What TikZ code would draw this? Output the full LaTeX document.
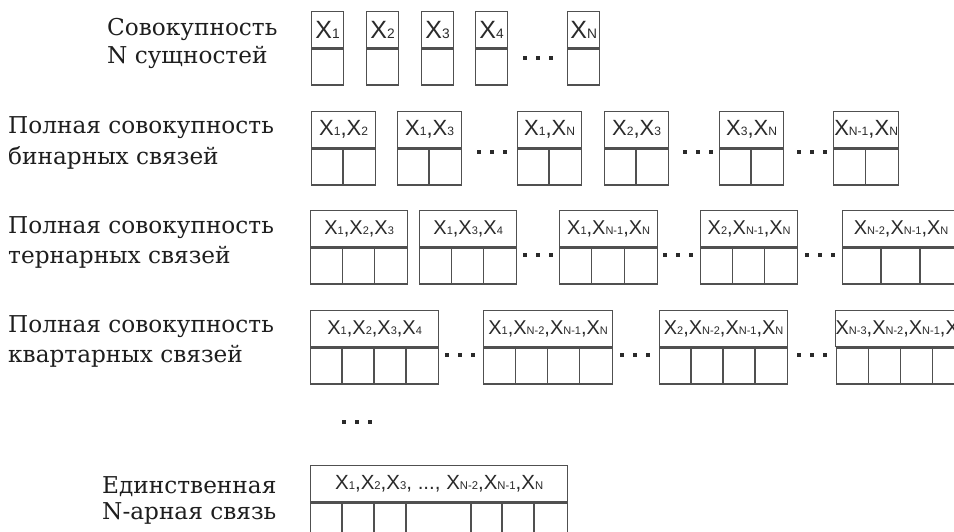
\documentclass[tikz,border=0pt]{standalone}
\usepackage{fontspec}
\usepackage{graphicx}
\setmainfont{DejaVu Serif}
\newfontfamily\boxfont{Liberation Sans}
\definecolor{linegray}{HTML}{505050}
\definecolor{textgray}{HTML}{2A2A2A}
\definecolor{labelgray}{HTML}{1E1E1E}
\newcommand\Xs[1]{X\scalebox{0.55}{#1}}
\tikzset{
  rowlabel/.style={font=\fontsize{23.2}{27}\selectfont, text=labelgray, inner sep=0pt, anchor=base west},
  topcell/.style={draw=linegray, line width=1.3pt, minimum height=36pt, inner sep=0pt, anchor=north west, text=textgray},
  botcell/.style={draw=linegray, line width=1.3pt, minimum height=36pt, inner sep=0pt, anchor=north},
  cellline/.style={draw=linegray, line width=1.3pt},
  sa/.style={font=\boxfont\fontsize{25}{25}\selectfont},
  sb/.style={font=\boxfont\fontsize{22}{22}\selectfont},
  sc/.style={font=\boxfont\fontsize{20}{20}\selectfont},
  sd/.style={font=\boxfont\fontsize{20}{20}\selectfont},
  se/.style={font=\boxfont\fontsize{20.5}{20.5}\selectfont},
}
% #1 name, #2 x, #3 y, #4 width, #5 cells, #6 font style, #7 label
\newcommand\relbox[7]{%
  \node[topcell,#6,minimum width=#4pt] (#1) at (#2,#3) {#7};
  \node[botcell,minimum width=#4pt] (#1c) at (#1.south) {};
  \pgfmathsetmacro\cw{#4/#5}
  \ifnum#5>1
    \foreach \k in {2,...,#5}{
      \draw[cellline] ([xshift={(\k-1)*\cw}]#1c.north west) -- ([xshift={(\k-1)*\cw}]#1c.south west);
    }
  \fi
}
\newcommand\threedots[2]{%
  \foreach \d in {0,1,2}{
    \fill[textgray] ({#1+13*\d-1.8},{#2-1.8}) rectangle ++(3.6,3.6);
  }
}
\begin{document}
\begin{tikzpicture}[x=1pt,y=-1pt]
\useasboundingbox (0,0) rectangle (954,531);
\clip (0,0) rectangle (954,531);
% row labels
\node[rowlabel] (l1a) at (107,35) {Совокупность};
\node[rowlabel] (l1b) at (107,63) {N сущностей};
\node[rowlabel] (l2a) at (8,133) {Полная совокупность};
\node[rowlabel] (l2b) at (8,164) {бинарных связей};
\node[rowlabel] (l3a) at (8,233) {Полная совокупность};
\node[rowlabel] (l3b) at (8,263) {тернарных связей};
\node[rowlabel] (l4a) at (8,332) {Полная совокупность};
\node[rowlabel] (l4b) at (8,362) {квартарных связей};
\node[rowlabel] (l5a) at (102,493) {Единственная};
\node[rowlabel] (l5b) at (102,519) {N-арная связь};
% row 1
\relbox{a1}{311}{11}{32}{1}{sa}{\Xs{1}}
\relbox{a2}{366}{11}{32}{1}{sa}{\Xs{2}}
\relbox{a3}{421}{11}{32}{1}{sa}{\Xs{3}}
\relbox{a4}{475}{11}{32}{1}{sa}{\Xs{4}}
\relbox{aN}{567}{11}{32}{1}{sa}{\Xs{N}}
\threedots{525}{58}
% row 2
\relbox{b1}{311}{111}{64}{2}{sb}{\Xs{1},\Xs{2}}
\relbox{b2}{397}{111}{64}{2}{sb}{\Xs{1},\Xs{3}}
\relbox{b3}{517}{111}{64}{2}{sb}{\Xs{1},\Xs{N}}
\relbox{b4}{604}{111}{64}{2}{sb}{\Xs{2},\Xs{3}}
\relbox{b5}{719}{111}{64}{2}{sb}{\Xs{3},\Xs{N}}
\relbox{b6}{833}{111}{65}{2}{sb}{\Xs{N-1},\Xs{N}}
\threedots{479}{152}
\threedots{685}{152}
\threedots{799}{152}
% row 3
\relbox{c1}{310}{210}{97}{3}{sc}{\Xs{1},\Xs{2},\Xs{3}}
\relbox{c2}{419}{210}{97}{3}{sc}{\Xs{1},\Xs{3},\Xs{4}}
\relbox{c3}{559}{210}{98}{3}{sc}{\Xs{1},\Xs{N-1},\Xs{N}}
\relbox{c4}{700}{210}{97}{3}{sc}{\Xs{2},\Xs{N-1},\Xs{N}}
\relbox{c5}{842}{210}{117}{3}{sc}{\Xs{N-2},\Xs{N-1},\Xs{N}}
\threedots{525}{255}
\threedots{665}{255}
\threedots{807}{255}
% row 4
\relbox{d1}{310}{310}{128}{4}{sd}{\Xs{1},\Xs{2},\Xs{3},\Xs{4}}
\relbox{d2}{483}{310}{129}{4}{sd}{\Xs{1},\Xs{N-2},\Xs{N-1},\Xs{N}}
\relbox{d3}{659}{310}{128}{4}{sd}{\Xs{2},\Xs{N-2},\Xs{N-1},\Xs{N}}
\relbox{d4}{835}{310}{129}{4}{sd}{\Xs{N-3},\Xs{N-2},\Xs{N-1},\Xs{N}}
\threedots{447}{355}
\threedots{622}{355}
\threedots{799}{355}
% row gap dots
\threedots{344}{422}
% row 5
\node[topcell,se,minimum width=257pt] (e1) at (310,465) {\Xs{1},\Xs{2},\Xs{3}, ..., \Xs{N-2},\Xs{N-1},\Xs{N}};
\node[botcell,minimum width=257pt] (e1c) at (e1.south) {};
\foreach \o in {32,64,96,161,192,224}{
  \draw[cellline] ([xshift=\o]e1c.north west) -- ([xshift=\o]e1c.south west);
}
\end{tikzpicture}
\end{document}
